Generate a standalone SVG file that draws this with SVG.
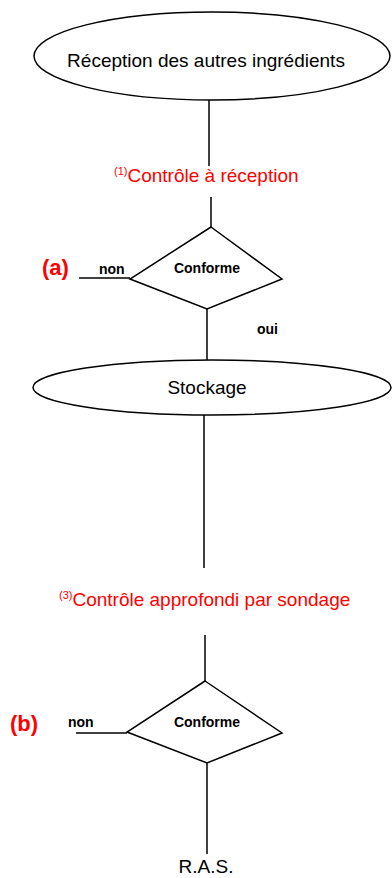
<svg xmlns="http://www.w3.org/2000/svg" width="392" height="878" viewBox="0 0 392 878">
  <style>
    .shape { fill: #ffffff; stroke: #000000; stroke-width: 1.5; }
    .link { stroke: #000000; stroke-width: 1.5; fill: none; }
    .label { font-family: "Liberation Sans", Arial, sans-serif; fill: #000000; }
    .big { font-size: 19px; }
    .bold { font-size: 14px; font-weight: bold; }
    .red { fill: #ff0000; }
    .tag { font-size: 22px; font-weight: bold; fill: #ff0000; }
    .sup { font-size: 11px; }
  </style>
  <rect width="392" height="878" fill="#ffffff"/>

  <!-- connectors -->
  <g id="connectors">
    <line class="link" x1="209" y1="100" x2="209" y2="166"/>
    <line class="link" x1="211" y1="197" x2="211" y2="227"/>
    <line class="link" x1="207" y1="309" x2="207" y2="360"/>
    <line class="link" x1="79" y1="278" x2="130" y2="278"/>
    <line class="link" x1="204" y1="415" x2="204" y2="568"/>
    <line class="link" x1="205" y1="635" x2="205" y2="681"/>
    <line class="link" x1="76" y1="733" x2="127" y2="733"/>
    <line class="link" x1="207" y1="763" x2="207" y2="854"/>
  </g>

  <!-- start: reception of the other ingredients -->
  <g id="reception">
    <ellipse class="shape" cx="212" cy="56" rx="178" ry="44"/>
    <text class="label big" x="206" y="67" text-anchor="middle">Réception des autres ingrédients</text>
  </g>

  <!-- control at reception -->
  <g id="controle-reception">
    <text class="label red" x="114" y="182"><tspan class="sup" dy="-7">(1)</tspan><tspan class="big" dy="7">Contrôle à réception</tspan></text>
  </g>

  <!-- first decision -->
  <g id="decision-a">
    <polygon class="shape" points="211,227 282,279 207,309 130,279"/>
    <text class="label bold" x="207" y="273" text-anchor="middle">Conforme</text>
    <text class="label bold" x="99" y="274">non</text>
    <text class="label bold" x="257" y="334">oui</text>
    <text class="label tag" x="42" y="275">(a)</text>
  </g>

  <!-- storage -->
  <g id="stockage">
    <ellipse class="shape" cx="212" cy="387.5" rx="179" ry="27.5"/>
    <text class="label big" x="207" y="394" text-anchor="middle">Stockage</text>
  </g>

  <!-- in-depth sampling control -->
  <g id="controle-sondage">
    <text class="label red" x="59" y="606"><tspan class="sup" dy="-7">(3)</tspan><tspan class="big" dy="7">Contrôle approfondi par sondage</tspan></text>
  </g>

  <!-- second decision -->
  <g id="decision-b">
    <polygon class="shape" points="205,681 282,733 207,763 127,732"/>
    <text class="label bold" x="207" y="727" text-anchor="middle">Conforme</text>
    <text class="label bold" x="68" y="727">non</text>
    <text class="label tag" x="10" y="731">(b)</text>
  </g>

  <!-- end: nothing to report -->
  <g id="ras">
    <text class="label big" x="206" y="873" text-anchor="middle">R.A.S.</text>
  </g>
</svg>
